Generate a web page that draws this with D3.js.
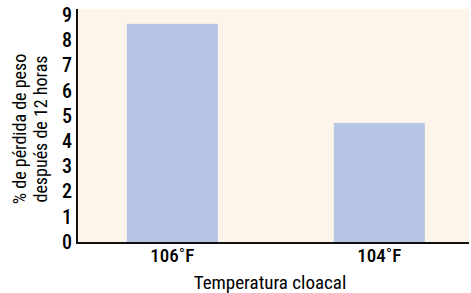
<!DOCTYPE html>
<html lang="es">
<head>
  <meta charset="UTF-8">
  <title>Pérdida de peso</title>
  <script src="https://d3js.org/d3.v7.min.js"></script>
  <style>
    body { margin: 0; background: #fff; }
    svg text { font-family: "Liberation Sans Narrow", "Roboto Condensed", "DejaVu Sans Condensed", "Liberation Sans", sans-serif; fill: #000; }
  </style>
</head>
<body>
  <svg id="chart" width="471" height="293"></svg>
  <script>
    const categories = ['106˚F', '104˚F'];
    const values = [8.65, 4.72];
    const yTicks = [0, 1, 2, 3, 4, 5, 6, 7, 8, 9];

    const svg = d3.select('#chart');
    const plotLeft = 77, plotRight = 469, plotTop = 9, plotBottom = 243;

    const x = d3.scaleBand()
      .domain(categories)
      .range([plotLeft, plotRight])
      .paddingInner(0.56)
      .paddingOuter(0.227)
      .align(0.53);

    const y = d3.scaleLinear().domain([0, 9]).range([242, 15]);

    // plot background
    svg.append('rect')
      .attr('x', plotLeft).attr('y', plotTop)
      .attr('width', plotRight - plotLeft).attr('height', plotBottom - plotTop)
      .attr('fill', '#fef5ea');

    svg.append('g')
      .selectAll('rect')
      .data(values)
      .join('rect')
      .attr('x', (d, i) => x(categories[i]))
      .attr('y', d => y(d))
      .attr('width', x.bandwidth())
      .attr('height', d => y(0) - y(d) + 1)
      .attr('fill', '#b7c5e5');

    // y tick labels
    const yAxis = svg.append('g')
      .attr('transform', `translate(${plotLeft},0)`)
      .call(d3.axisLeft(y).tickValues(yTicks).tickSize(0).tickPadding(5));
    yAxis.select('.domain').remove();
    yAxis.selectAll('text')
      .attr('font-size', 20)
      .attr('font-weight', 500)
      .attr('font-family', null);

    // x tick labels
    const xAxis = svg.append('g')
      .attr('transform', `translate(0,${plotBottom})`)
      .call(d3.axisBottom(x).tickSize(0).tickPadding(6));
    xAxis.select('.domain').remove();
    xAxis.selectAll('text')
      .attr('font-size', 19)
      .attr('font-weight', 500)
      .attr('font-family', null);

    // axis lines
    svg.append('line')
      .attr('x1', plotLeft).attr('x2', plotLeft)
      .attr('y1', plotTop).attr('y2', plotBottom + 1)
      .attr('stroke', '#111').attr('stroke-width', 2);
    svg.append('line')
      .attr('x1', plotLeft - 1).attr('x2', plotRight)
      .attr('y1', plotBottom).attr('y2', plotBottom)
      .attr('stroke', '#111').attr('stroke-width', 2);

    // titles
    svg.append('text')
      .attr('x', 270).attr('y', 289)
      .attr('text-anchor', 'middle')
      .attr('font-size', 19)
      .text('Temperatura cloacal');

    const yt = svg.append('text')
      .attr('transform', 'translate(26,129) rotate(-90)')
      .attr('text-anchor', 'middle')
      .attr('font-size', 18);
    yt.append('tspan').attr('x', 0).attr('dy', 0).text('% de pérdida de peso');
    yt.append('tspan').attr('x', 0).attr('dy', 21).text('después de 12 horas');
  </script>
</body>
</html>
